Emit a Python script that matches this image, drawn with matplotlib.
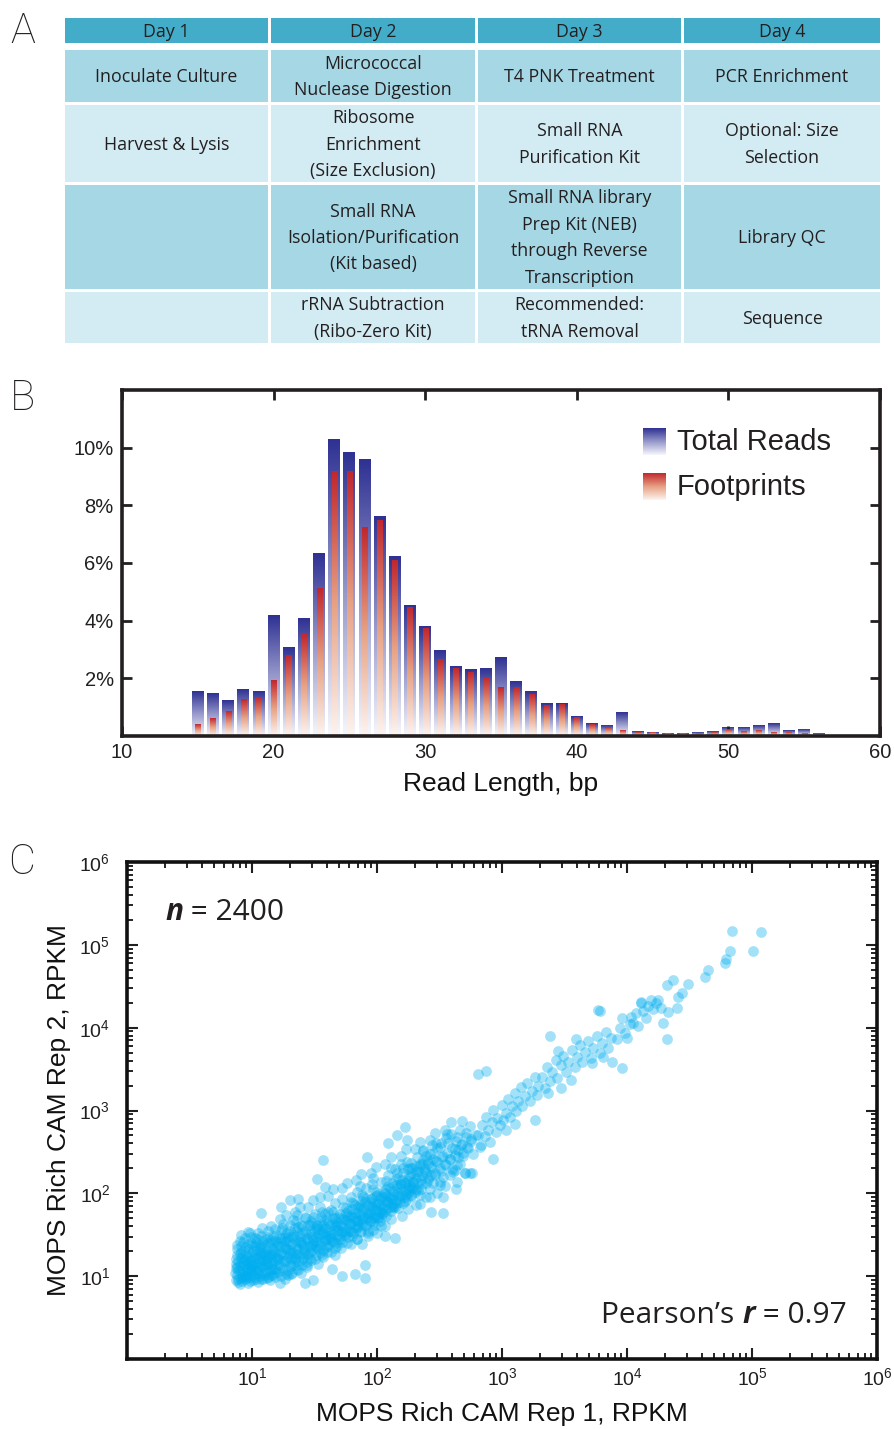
import numpy as np
import matplotlib
matplotlib.use('Agg')
import matplotlib.pyplot as plt
from matplotlib.colors import LinearSegmentedColormap
from matplotlib.patches import Rectangle
from matplotlib import font_manager as fm
from matplotlib.ticker import LogLocator, NullFormatter, FixedLocator

# ---------------- data ----------------
day_headers = ["Day 1", "Day 2", "Day 3", "Day 4"]
protocol_rows = [
    ["Inoculate Culture", "Micrococcal\nNuclease Digestion", "T4 PNK Treatment", "PCR Enrichment"],
    ["Harvest & Lysis", "Ribosome\nEnrichment\n(Size Exclusion)", "Small RNA\nPurification Kit", "Optional: Size\nSelection"],
    ["", "Small RNA\nIsolation/Purification\n(Kit based)", "Small RNA library\nPrep Kit (NEB)\nthrough Reverse\nTranscription", "Library QC"],
    ["", "rRNA Subtraction\n(Ribo-Zero Kit)", "Recommended:\ntRNA Removal", "Sequence"],
]

read_length = list(range(15, 57))
total_reads = [1.54, 1.47, 1.22, 1.61, 1.54, 4.18, 3.07, 4.08, 6.34, 10.28,
               9.83, 9.59, 7.63, 6.24, 4.53, 3.80, 2.97, 2.40, 2.29, 2.33,
               2.73, 1.90, 1.56, 1.11, 1.14, 0.69, 0.45, 0.35, 0.83, 0.17,
               0.13, 0.08, 0.08, 0.12, 0.17, 0.31, 0.31, 0.35, 0.42, 0.20,
               0.24, 0.07]
footprints = [0.39, 0.60, 0.84, 1.27, 1.34, 1.92, 2.79, 3.52, 5.12, 9.17,
              9.17, 7.22, 7.46, 6.10, 4.46, 3.73, 2.65, 2.33, 2.21, 2.04,
              1.69, 1.69, 1.45, 1.07, 1.10, 0.65, 0.41, 0.31, 0.20, 0.12,
              0.12, 0.08, 0.08, 0.08, 0.12, 0.24, 0.17, 0.20, 0.12, 0.12,
              0.08, 0.0]

# log10(RPKM rep1), log10(RPKM rep2) pairs
cloud_low = [(0.87,0.95),(0.88,1.02),(0.87,1.10),(0.89,1.18),(0.88,1.25),(0.90,0.91),(0.91,0.98),(0.90,1.06),(0.92,1.14),(0.91,1.22),
    (0.93,1.30),(0.92,0.94),(0.94,1.01),(0.95,1.09),(0.93,1.17),(0.96,1.24),(0.95,1.35),(0.97,0.92),(0.98,0.99),(0.97,1.05),
    (0.99,1.12),(0.98,1.20),(1.00,1.28),(0.99,1.40),(1.01,0.95),(1.02,1.03),(1.01,1.10),(1.03,1.16),(1.02,1.23),(1.04,1.31),
    (1.05,0.93),(1.06,1.00),(1.05,1.07),(1.07,1.14),(1.06,1.21),(1.08,1.27),(1.07,1.36),(1.09,0.97),(1.10,1.04),(1.09,1.11),
    (1.11,1.18),(1.10,1.25),(1.12,1.32),(1.11,1.45),(1.13,0.99),(1.14,1.06),(1.13,1.13),(1.15,1.20),(1.14,1.27),(1.16,1.34),
    (1.17,1.02),(1.18,1.09),(1.17,1.16),(1.19,1.23),(1.18,1.30),(1.20,1.38),(1.19,1.50),(0.88,1.33),(0.90,1.42),(0.94,1.46),
    (0.89,0.97),(0.93,1.06),(0.96,1.15),(1.00,1.19),(1.03,1.26),(1.06,1.29),(1.08,1.19),(1.12,1.08),(1.15,1.13),(1.16,1.26),
    (0.95,1.00),(0.99,1.06),(1.04,1.11),(1.08,1.04),(1.12,1.22),(1.02,1.37),(1.14,1.41),(1.18,1.44),(0.91,1.50),(1.05,1.52)]
cloud_mid = [(1.21,1.05),(1.22,1.13),(1.21,1.21),(1.23,1.29),(1.22,1.37),(1.24,1.46),(1.25,1.10),(1.26,1.18),(1.25,1.26),(1.27,1.34),
    (1.26,1.42),(1.28,1.52),(1.29,1.08),(1.30,1.15),(1.29,1.23),(1.31,1.31),(1.30,1.39),(1.32,1.47),(1.33,1.13),(1.34,1.21),
    (1.33,1.28),(1.35,1.36),(1.34,1.44),(1.36,1.55),(1.37,1.18),(1.38,1.26),(1.37,1.33),(1.39,1.41),(1.38,1.49),(1.40,1.60),
    (1.41,1.22),(1.42,1.30),(1.41,1.38),(1.43,1.46),(1.42,1.54),(1.44,1.17),(1.45,1.27),(1.46,1.35),(1.45,1.43),(1.47,1.51),
    (1.46,1.62),(1.48,1.31),(1.49,1.39),(1.48,1.47),(1.50,1.55),(1.51,1.25),(1.52,1.34),(1.51,1.42),(1.53,1.50),(1.52,1.60),
    (1.54,1.38),(1.55,1.46),(1.56,1.54),(1.55,1.64),(1.57,1.32),(1.58,1.42),(1.59,1.50),(1.58,1.58),(1.60,1.68),(1.61,1.37),
    (1.62,1.46),(1.61,1.54),(1.63,1.62),(1.64,1.43),(1.65,1.51),(1.66,1.59),(1.65,1.70),(1.67,1.40),(1.68,1.48),(1.69,1.56),
    (1.68,1.65),(1.70,1.75),(1.23,1.00),(1.27,1.03),(1.32,1.04),(1.36,1.09),(1.40,1.13),(1.24,1.58),(1.30,1.62),(1.35,1.66),
    (1.43,1.70),(1.50,1.75),(1.56,1.78),(1.63,1.80),(1.47,1.20),(1.54,1.28),(1.60,1.29),(1.66,1.34)]
cloud_upper = [(1.71,1.45),(1.72,1.53),(1.71,1.61),(1.73,1.69),(1.74,1.50),(1.75,1.58),(1.76,1.66),(1.75,1.76),(1.77,1.47),(1.78,1.55),
    (1.79,1.63),(1.78,1.71),(1.80,1.81),(1.81,1.52),(1.82,1.60),(1.83,1.68),(1.82,1.76),(1.84,1.58),(1.85,1.66),(1.86,1.74),
    (1.85,1.84),(1.87,1.55),(1.88,1.63),(1.89,1.71),(1.88,1.79),(1.90,1.89),(1.91,1.62),(1.92,1.70),(1.93,1.78),(1.92,1.86),
    (1.94,1.67),(1.95,1.75),(1.96,1.83),(1.95,1.93),(1.97,1.64),(1.98,1.72),(1.99,1.80),(1.98,1.88),(2.00,1.98),(2.01,1.70),
    (2.02,1.78),(2.03,1.86),(2.02,1.94),(2.04,1.76),(2.05,1.84),(2.06,1.92),(2.05,2.02),(2.07,1.73),(2.08,1.81),(2.09,1.89),
    (2.08,1.97),(2.10,2.07),(2.11,1.79),(2.12,1.87),(2.13,1.95),(2.12,2.03),(2.14,1.84),(2.15,1.92),(2.16,2.00),(2.15,2.10),
    (2.17,1.82),(2.18,1.90),(2.19,1.98),(2.18,2.06),(2.20,2.16),(2.21,1.88),(2.22,1.96),(2.23,2.04),(2.22,2.12),(2.24,1.93),
    (2.25,2.01),(2.26,2.09),(2.25,2.19),(2.27,1.98),(2.28,2.06),(2.29,2.14),(2.28,2.24),(1.76,1.40),(1.84,1.45),(1.93,1.52),
    (2.03,1.60),(1.79,1.90),(1.88,1.98),(1.97,2.05),(2.07,2.15),(2.16,2.24),(2.26,2.30)]
cloud_fill = [(0.86,1.04),(0.87,1.21),(0.89,0.93),(0.88,1.38),(0.90,1.13),(0.91,1.29),(0.92,1.01),(0.93,1.41),(0.94,0.96),(0.94,1.19),
    (0.95,1.27),(0.96,1.07),(0.97,1.33),(0.98,0.94),(0.98,1.16),(0.99,1.24),(1.00,1.02),(1.00,1.36),(0.87,1.15),(0.89,1.08),
    (0.92,1.23),(0.96,0.98),(0.99,1.47),(0.91,1.36),(0.95,1.12),
    (1.01,1.14),(1.02,0.99),(1.03,1.41),(1.04,1.22),(1.05,1.04),(1.06,1.34),(1.07,0.96),(1.07,1.49),(1.08,1.12),(1.09,1.29),
    (1.10,1.01),(1.11,1.38),(1.12,1.15),(1.13,1.55),(1.13,1.24),(1.14,0.95),(1.15,1.44),(1.16,1.09),(1.17,1.31),(1.18,1.18),
    (1.18,1.57),(1.19,1.04),(1.20,1.36),(1.20,1.21),(1.03,1.08),(1.06,1.17),(1.09,1.43),(1.11,1.26),(1.15,1.02),(1.17,1.48),
    (1.21,1.13),(1.22,1.46),(1.23,1.27),(1.24,1.07),(1.25,1.63),(1.26,1.35),(1.27,1.19),(1.28,1.42),(1.29,1.01),(1.30,1.55),
    (1.30,1.28),(1.31,1.12),(1.32,1.39),(1.33,1.68),(1.34,1.22),(1.35,1.49),(1.36,1.31),(1.37,1.08),(1.37,1.59),(1.38,1.41),
    (1.39,1.19),(1.40,1.52),(1.41,1.33),(1.42,1.71),(1.43,1.25),(1.44,1.45),(1.44,1.14),(1.45,1.62),(1.23,1.56),(1.27,1.33),
    (1.32,1.24),(1.36,1.74),(1.40,1.39),(1.29,1.47),(1.34,1.58),
    (1.46,1.29),(1.47,1.55),(1.48,1.38),(1.49,1.71),(1.50,1.21),(1.51,1.47),(1.52,1.62),(1.53,1.33),(1.54,1.83),(1.55,1.51),
    (1.56,1.26),(1.57,1.68),(1.58,1.44),(1.59,1.57),(1.60,1.35),(1.61,1.77),(1.62,1.49),(1.63,1.29),(1.64,1.65),(1.65,1.41),
    (1.66,1.88),(1.67,1.56),(1.68,1.36),(1.69,1.72),(1.70,1.49),(1.71,1.62),(1.72,1.41),(1.73,1.83),(1.74,1.55),(1.75,1.68),
    (1.48,1.64),(1.53,1.57),(1.58,1.75),(1.63,1.53),(1.68,1.61),(1.72,1.93),(1.51,1.36),(1.60,1.45),
    (1.76,1.52),(1.77,1.79),(1.78,1.63),(1.79,1.96),(1.80,1.48),(1.81,1.71),(1.82,1.86),(1.83,1.58),(1.84,2.02),(1.85,1.77),
    (1.86,1.53),(1.87,1.91),(1.88,1.69),(1.89,1.82),(1.90,1.60),(1.91,2.06),(1.92,1.75),(1.93,1.55),(1.94,1.89),(1.95,1.67),
    (1.96,2.11),(1.97,1.81),(1.98,1.62),(1.99,1.97),(2.00,1.74),(2.01,1.88),(2.02,1.66),(2.03,2.14),(2.04,1.81),(2.05,1.95),
    (1.79,1.74),(1.84,1.66),(1.89,1.95),(1.94,1.78),(1.99,1.86),(2.03,1.72),(1.86,2.09),(1.97,2.18),
    (2.06,1.79),(2.07,2.05),(2.08,1.89),(2.09,2.22),(2.10,1.96),(2.11,1.83),(2.12,2.13),(2.13,1.99),(2.14,2.29),(2.15,1.88),
    (2.16,2.07),(2.17,2.19),(2.18,1.94),(2.19,2.35),(2.20,2.03),(2.21,2.24),(2.22,1.91),(2.23,2.12),(2.24,2.38),(2.25,2.06),
    (2.26,2.21),(2.27,1.97),(2.28,2.31),(2.29,2.14),(2.30,2.02),(2.31,2.26),(2.32,2.44),(2.33,2.13),(2.34,2.33),(2.35,2.05),
    (2.36,2.22),(2.37,2.51),(2.38,2.29),(2.39,2.12),(2.40,2.40),(2.11,2.31),(2.18,2.11),(2.25,2.29),(2.31,2.18),(2.36,2.36),
    (2.41,2.18),(2.42,2.47),(2.43,2.31),(2.44,2.58),(2.46,2.24),(2.47,2.39),(2.48,2.55),(2.50,2.30),(2.51,2.61),(2.52,2.44),
    (2.54,2.36),(2.55,2.67),(2.56,2.49),(2.58,2.41),(2.59,2.72),(2.60,2.55),(2.62,2.46),(2.63,2.63),(2.65,2.52),(2.66,2.77),
    (2.68,2.59),(2.69,2.45),(2.71,2.68),(2.72,2.56),(2.74,2.81),(2.75,2.63),(2.45,2.12),(2.53,2.20),(2.64,2.34)]
cloud_core2 = [(0.88,1.11),(0.90,1.27),(0.93,0.99),(0.95,1.20),(0.97,1.39),(0.99,1.09),(1.01,1.30),(1.03,0.97),(1.04,1.45),(1.06,1.24),
    (1.08,1.35),(1.10,1.15),(1.12,0.98),(1.13,1.40),(1.15,1.28),(1.17,1.09),(1.19,1.41),(1.21,1.25),(1.23,1.41),(1.25,1.18),
    (1.27,1.51),(1.29,1.32),(1.31,1.21),(1.33,1.50),(1.35,1.27),(1.37,1.43),(1.39,1.62),(1.41,1.28),(1.43,1.51),(1.45,1.36),
    (1.47,1.66),(1.49,1.44),(1.51,1.58),(1.53,1.41),(1.55,1.72),(1.57,1.52),(1.59,1.38),(1.61,1.64),(1.63,1.46),(1.65,1.77),
    (1.67,1.62),(1.69,1.45),(1.71,1.70),(1.73,1.53),(1.75,1.82),(1.77,1.64),(1.79,1.55),(1.81,1.88),(1.83,1.72),(1.85,1.61),
    (1.87,1.83),(1.89,1.66),(1.91,1.94),(1.93,1.73),(1.95,1.85),(1.97,1.70),(1.99,2.02),(2.01,1.83),(2.03,1.97),(2.05,1.76),
    (2.07,1.91),(2.09,2.09),(2.11,1.93),(2.13,1.85),(2.15,2.17),(2.17,1.97),(2.19,2.11),(2.21,2.31),(2.23,1.99),(2.25,2.15),
    (2.27,2.37),(2.29,2.08),(2.31,2.33),(2.33,2.27),(2.35,2.16),(2.37,2.40),(2.39,2.25),(2.41,2.37),(2.43,2.22),(2.45,2.41),
    (1.00,1.13),(1.05,1.39),(1.12,1.47),(1.18,0.99),(1.26,1.46),(1.36,1.14),(1.46,1.22),(1.56,1.62),(1.66,1.70),(1.76,1.73),
    (1.86,1.86),(1.96,1.94),(2.06,2.01)]
cloud_fringe = [(1.22,1.69),(1.27,1.74),(1.34,1.77),(1.38,1.83),(1.45,1.84),(1.49,1.92),(1.54,1.95),(1.61,1.97),(1.65,2.05),(1.72,2.07),
    (1.76,2.13),(1.83,2.16),(1.87,2.23),(1.95,2.24),(1.99,2.32),(2.06,2.35),(2.11,2.44),(2.19,2.45),(2.23,2.53),(2.30,2.54),
    (2.34,2.62),(2.42,2.64),(2.46,2.73),(2.54,2.76),(2.59,2.86),(2.68,2.87),
    (1.26,0.97),(1.31,1.03),(1.39,1.04),(1.44,1.11),(1.53,1.15),(1.57,1.23),(1.66,1.26),(1.71,1.34),(1.79,1.39),(1.84,1.45),
    (1.93,1.48),(1.97,1.56),(2.06,1.61),(2.11,1.69),(2.20,1.73),(2.25,1.81),(2.34,1.87),(2.39,1.96),(2.48,2.01),(2.54,2.09),
    (2.64,2.14),(1.15,1.61),(1.08,1.58),(0.97,1.53),(1.02,1.46)]
cloud_high = [(2.31,2.05),(2.33,2.21),(2.34,2.35),(2.36,2.11),(2.38,2.27),(2.39,2.45),(2.41,2.16),(2.43,2.33),(2.45,2.49),(2.46,2.22),
    (2.48,2.38),(2.50,2.56),(2.51,2.27),(2.53,2.45),(2.55,2.34),(2.57,2.61),(2.58,2.42),(2.60,2.29),(2.62,2.53),(2.64,2.68),
    (2.65,2.44),(2.67,2.58),(2.69,2.49),(2.71,2.73),(2.73,2.55),(2.75,2.66),(2.77,2.48),(2.79,2.70),(2.37,2.52),(2.47,2.61),
    (2.56,2.72),(2.66,2.36),(2.34,1.98),(2.42,2.05),(2.50,2.14),(2.58,2.22),
    (2.81,2.71),(2.83,2.58),(2.84,2.83),(2.86,2.69),(2.87,2.92),(2.89,2.77),(2.90,2.62),(2.92,2.86),(2.93,3.01),(2.95,2.74),
    (2.96,2.91),(2.98,2.83),(3.00,3.07),(3.01,2.88),(3.03,2.97),(3.05,3.14),(3.06,2.92),(3.08,3.05),(3.10,3.21),(3.11,2.99),
    (3.13,3.12),(3.15,3.28),(3.16,3.05),(3.18,3.17),(3.20,3.33),(3.22,3.11),(3.24,3.24),(3.26,3.40),(3.28,3.19),(3.29,3.30)]
cloud_top = [(3.32,3.41),(3.34,3.27),(3.36,3.52),(3.38,3.36),(3.40,3.46),(3.43,3.61),(3.44,3.39),(3.47,3.55),(3.49,3.66),(3.51,3.47),
    (3.53,3.58),(3.56,3.73),(3.58,3.52),(3.60,3.65),(3.62,3.79),(3.64,3.59),(3.66,3.71),(3.69,3.84),(3.71,3.63),(3.73,3.76),
    (3.76,3.90),(3.78,3.70),(3.80,3.82),(3.83,3.95),(3.85,3.76),(3.87,3.88),(3.45,3.72),(3.59,3.86),(3.72,3.57),(3.81,3.64),
    (3.92,3.86),(3.94,4.00),(3.96,4.12),(3.98,3.93),(4.00,3.88),(4.02,4.05),(4.03,4.13),(4.05,4.06),(4.07,4.18),(4.09,4.02),
    (4.11,4.31),(4.13,4.20),(4.15,4.12),(4.17,4.26),(4.19,4.34),(4.21,4.22),(4.23,4.30),(4.25,4.34),(4.27,4.24),(4.29,4.06),
    (4.32,3.86),(4.33,4.19),(4.32,4.52),(4.37,4.58),(4.40,4.24),(4.41,4.37),(4.44,4.42),(4.49,4.53),(3.96,3.51),(3.88,3.59),
    (3.77,4.21),(4.62,4.61),(4.65,4.70),(4.78,4.78),(4.79,4.83),(4.82,4.93),(4.84,5.17),(5.01,4.92),(5.07,5.16),
    (2.81,3.44),(2.87,3.48),(3.38,3.90),(3.78,4.20),(3.26,2.89),(2.93,2.42),(2.74,2.25),(2.70,2.25),(2.61,2.26),(3.03,2.77),
    (3.10,2.84),(3.37,3.21),(3.47,3.27),(3.55,3.37),(4.11,4.30)]
cloud_outliers = [(1.57,2.40),(1.52,2.17),(1.58,2.08),(1.30,1.92),(1.37,1.93),(1.07,1.76),(0.98,1.52),(1.23,1.84),(1.92,2.44),
    (2.22,2.80),(2.16,2.71),(2.09,2.61),(2.24,2.64),(1.90,1.14),(1.90,0.98),(1.82,1.03),(1.72,1.00),(1.49,0.95),(1.42,0.92),
    (1.22,0.92),(1.64,1.09),(2.00,1.52),(2.06,1.49),(2.14,1.46),(1.88,1.39),(2.01,1.71),(2.13,1.82),(2.31,1.86),(2.43,1.78),
    (2.53,1.76),(2.53,1.96),(2.63,2.05),(2.50,2.10),(2.42,1.96),(2.70,2.25),(2.76,2.25),(2.33,2.04),(2.26,2.04),(2.62,2.28),
    (2.82,2.56)]

# ---------------- fonts ----------------
avail = {f.name for f in fm.fontManager.ttflist}
NARROW = 'Liberation Sans Narrow' if 'Liberation Sans Narrow' in avail else 'Liberation Sans'
SANS = 'Liberation Sans'
MYRIAD = 'Open Sans'
plt.rcParams['font.family'] = [SANS, 'DejaVu Sans']
plt.rcParams['mathtext.fontset'] = 'custom'
plt.rcParams['mathtext.rm'] = SANS
plt.rcParams['mathtext.it'] = SANS + ':italic'
plt.rcParams['mathtext.bf'] = SANS + ':bold'

TXT = '#231f20'
fig = plt.figure(figsize=(8.94, 14.29), dpi=100)
H = 1429.0
W = 894.0

# ---------------- panel A (table) ----------------
axA = fig.add_axes([0, 0, 1, 1])
axA.set_xlim(0, W)
axA.set_ylim(H, 0)
axA.axis('off')
axA.patch.set_visible(False)
col_edges = [(65, 268), (271, 475), (478, 681), (684, 880)]
row_edges = [(18, 43), (50, 102), (105, 182), (185, 289), (292, 343)]
row_colors = ['#43adc9', '#a6d7e5', '#d3ebf2', '#a6d7e5', '#d3ebf2']
all_rows = [day_headers] + protocol_rows
for r, (y0, y1) in enumerate(row_edges):
    for c, (x0, x1) in enumerate(col_edges):
        axA.add_patch(Rectangle((x0, y0), x1 - x0, y1 - y0, facecolor=row_colors[r], edgecolor='none'))
        txt = all_rows[r][c]
        if txt:
            axA.text((x0 + x1) / 2, (y0 + y1) / 2 + 1, txt, ha='center', va='center', fontsize=12.8,
                     family=[MYRIAD, SANS], fontweight='medium', color=TXT, linespacing=1.6)

label_kw = dict(fontsize=30, family=['Roboto', NARROW], color=TXT, ha='center', va='center', fontweight='light')
axA.text(23, 31, 'A', **label_kw)
axA.text(22, 398, 'B', **label_kw)
axA.text(22, 862, 'C', **label_kw)

# ---------------- panel B (read length histogram) ----------------
axB = fig.add_axes([122 / W, 1 - 736 / H, 758 / W, 346 / H])
blue_cmap = LinearSegmentedColormap.from_list('b', ['#f7f7fc', '#9798cb', '#2e3192'])
red_cmap = LinearSegmentedColormap.from_list('r', ['#fdf4f0', '#e7a183', '#c1272d'])
grad = np.linspace(0, 1, 256).reshape(-1, 1)
for x, t, f in zip(read_length, total_reads, footprints):
    if t > 0:
        axB.imshow(grad, cmap=blue_cmap, extent=(x - 0.39, x + 0.39, 0, t), origin='lower',
                   aspect='auto', interpolation='bilinear', zorder=1)
    if f > 0:
        axB.imshow(grad, cmap=red_cmap, extent=(x - 0.17, x + 0.17, 0, f), origin='lower',
                   aspect='auto', interpolation='bilinear', zorder=2)
axB.set_xlim(10, 60)
axB.set_ylim(0, 12)
axB.set_xticks([10, 20, 30, 40, 50, 60])
axB.set_yticks([2, 4, 6, 8, 10])
axB.set_yticklabels(['2%', '4%', '6%', '8%', '10%'])
axB.tick_params(axis='both', direction='in', length=7, width=2, top=True, right=True,
                labelsize=14.5, colors='#231f20')
axB.tick_params(axis='y', pad=6)
axB.tick_params(axis='x', pad=5)
for sp in axB.spines.values():
    sp.set_linewidth(2.6)
    sp.set_color('#231f20')
axB.set_xlabel('Read Length, bp', fontsize=19, labelpad=7, color='#111')
# legend swatches
for (y0, cmap, lab, ty) in [(0.812, blue_cmap, 'Total Reads', 0.850), (0.682, red_cmap, 'Footprints', 0.720)]:
    sw = axB.inset_axes([0.687, y0, 0.030, 0.078])
    sw.imshow(grad, cmap=cmap, origin='lower', aspect='auto', extent=(0, 1, 0, 1))
    sw.axis('off')
    axB.text(0.732, ty, lab, transform=axB.transAxes, fontsize=21, family=NARROW,
             color=TXT, va='center', ha='left')

# ---------------- panel C (scatter) ----------------
axC = fig.add_axes([127 / W, 1 - 1359 / H, 750 / W, 497 / H])
pts = np.array(cloud_low + cloud_mid + cloud_upper + cloud_fill + cloud_core2 + cloud_fringe
               + cloud_high + cloud_top + cloud_outliers)
axC.scatter(10 ** pts[:, 0], 10 ** pts[:, 1], s=60, color='#00aeef', alpha=0.36, linewidths=0, zorder=2)
axC.set_xscale('log')
axC.set_yscale('log')
axC.set_xlim(1, 1e6)
axC.set_ylim(1, 1e6)
for axis in (axC.xaxis, axC.yaxis):
    axis.set_major_locator(FixedLocator([10 ** k for k in range(1, 7)]))
    axis.set_minor_locator(LogLocator(base=10, subs=np.arange(2, 10), numticks=20))
    axis.set_minor_formatter(NullFormatter())
axC.tick_params(axis='both', which='major', direction='in', length=8, width=1.5, top=True, right=True,
                labelsize=14, colors='#231f20')
axC.tick_params(axis='both', which='minor', direction='in', length=4, width=1.2, top=True, right=True)
axC.tick_params(axis='y', which='major', pad=12)
axC.tick_params(axis='x', which='major', pad=6)
for sp in axC.spines.values():
    sp.set_linewidth(2.6)
    sp.set_color('#111')
axC.set_xlabel('MOPS Rich CAM Rep 1, RPKM', fontsize=19, labelpad=9, color='#111')
axC.set_ylabel('MOPS Rich CAM Rep 2, RPKM', fontsize=19, labelpad=6, color='#111')

t1 = axC.text(0.051, 0.883, 'n', transform=axC.transAxes, fontsize=21.5, family=MYRIAD,
              fontweight='bold', fontstyle='italic', color=TXT, va='baseline')
axC.annotate(' = 2400', xy=(1, 0), xycoords=t1, va='bottom', ha='left', fontsize=21.5,
             family=MYRIAD, color=TXT)
p1 = axC.text(0.632, 0.072, 'Pearson\u2019s ', transform=axC.transAxes, fontsize=21.5, family=MYRIAD,
              color=TXT, va='baseline')
p2 = axC.annotate('r', xy=(1, 0), xycoords=p1, va='bottom', ha='left', fontsize=21.5, family=MYRIAD,
                  fontweight='bold', fontstyle='italic', color=TXT)
axC.annotate(' = 0.97', xy=(1, 0), xycoords=p2, va='bottom', ha='left', fontsize=21.5,
             family=MYRIAD, color=TXT)

fig.savefig('out.png', dpi=100)
